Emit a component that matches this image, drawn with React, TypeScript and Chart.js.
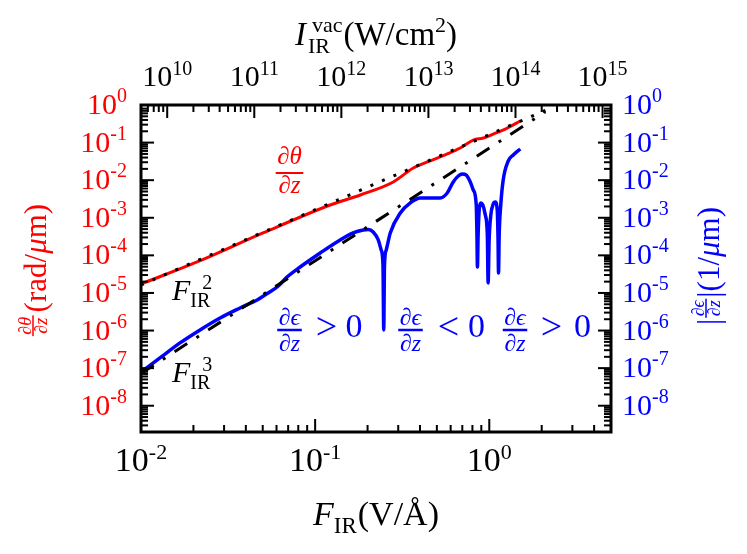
import { useEffect, useRef } from 'react';
import { Chart, registerables } from 'chart.js';

Chart.register(...registerables);

// ---------------- data ----------------
const fieldRange = [0.01, 5]; // F_IR (V/Å), bottom axis
const intensityRange = [5e9, 1.25e15]; // I_IR^vac (W/cm^2), top axis
const rateRange = [2e-9, 1]; // both vertical axes

const bottomTickValues = [0.01, 0.1, 1];
const bottomTickExponents = ['-2', '-1', '0'];
const topTickValues = [1e10, 1e11, 1e12, 1e13, 1e14, 1e15];
const topTickExponents = ['10', '11', '12', '13', '14', '15'];
const sideTickValues = [1, 1e-1, 1e-2, 1e-3, 1e-4, 1e-5, 1e-6, 1e-7, 1e-8];
const sideTickExponents = ['0', '-1', '-2', '-3', '-4', '-5', '-6', '-7', '-8'];

// dθ/dz (rad/µm), red
const thetaField = [0.01, 0.021, 0.0502, 0.122, 0.182, 0.281, 0.366, 0.441, 0.574, 0.681, 0.809, 0.925, 1.054, 1.268, 1.507];
const thetaRate = [1.73e-5, 6.67e-5, 3.94e-4, 2.19e-3, 4.04e-3, 8.95e-3, 2.11e-2, 3.05e-2, 4.98e-2, 7.18e-2, 0.117, 0.132, 0.169, 0.244, 0.375];

// |dε/dz| (1/µm), blue
const epsField = [
  0.01, 0.01285, 0.01675, 0.02183, 0.02844, 0.03707, 0.04645, 0.0537, 0.0605, 0.0691,
  0.082, 0.1069, 0.1393, 0.1653, 0.1888, 0.2018, 0.2155, 0.2303, 0.2395, 0.2452,
  0.2477, 0.2502, 0.256, 0.27, 0.3083, 0.3518, 0.4013, 0.5226, 0.5735, 0.6209,
  0.6637, 0.6998, 0.7379, 0.778, 0.8092, 0.8417, 0.8495, 0.855, 0.8629, 0.8769,
  0.8933, 0.9179, 0.9485, 0.9746, 0.9848, 0.998, 1.021, 1.054, 1.082, 1.111,
  1.123, 1.13, 1.14, 1.164, 1.202, 1.285, 1.373, 1.507,
];
const epsRate = [
  7.9e-8, 1.87e-7, 4.68e-7, 1.04e-6, 2.16e-6, 3.99e-6, 6.51e-6, 1.0e-5, 1.44e-5, 2.67e-5,
  4.91e-5, 1.16e-4, 2.57e-4, 3.94e-4, 4.74e-4, 4.89e-4, 4.19e-4, 2.57e-4, 1.39e-4, 5.56e-5,
  1.04e-6, 5.56e-5, 1.39e-4, 3.94e-4, 1.34e-3, 2.48e-3, 3.37e-3, 3.37e-3, 4.57e-3, 8.95e-3,
  1.29e-2, 1.46e-2, 1.37e-2, 8.95e-3, 5.48e-3, 2.19e-3, 3.49e-4, 4.91e-5, 3.49e-4, 1.82e-3,
  2.48e-3, 2.19e-3, 1.19e-3, 3.49e-4, 1.85e-5, 2.57e-4, 1.19e-3, 2.33e-3, 2.63e-3, 1.61e-3,
  2.57e-4, 3.4e-5, 3.49e-4, 2.19e-3, 1.01e-2, 3.24e-2, 4.68e-2, 6.76e-2,
];

// reference power laws (F^2 dotted, F^3 dash-dot)
const squareLawField = [0.01, 2.1];
const squareLawRate = [1.63e-5, 0.72];
const cubeLawField = [0.01, 2.1];
const cubeLawRate = [7.2e-8, 0.66];

// ---------------- drawing helpers ----------------
const RED = '#ff0000';
const BLUE = '#0000ff';
const BLACK = '#000000';
const SERIF = '"Liberation Serif", "Times New Roman", "DejaVu Serif", serif';
const fnt = (size: number, italic = false) => `${italic ? 'italic ' : ''}${size}px ${SERIF}`;

type Piece = { t: string; size: number; it?: boolean; dy?: number; dx?: number; stack?: boolean };

function layoutSeq(ctx: CanvasRenderingContext2D, pieces: Piece[]) {
  let cursor = 0;
  let lastStart = 0;
  const starts: number[] = [];
  for (const p of pieces) {
    ctx.font = fnt(p.size, p.it);
    const w = ctx.measureText(p.t).width;
    const dx = p.dx ?? 0;
    let s: number;
    if (p.stack) {
      s = lastStart + dx;
      cursor = Math.max(cursor, s + w);
    } else {
      s = cursor + dx;
      lastStart = s;
      cursor = s + w;
    }
    starts.push(s);
  }
  return { starts, width: cursor };
}

function drawSeq(
  ctx: CanvasRenderingContext2D,
  pieces: Piece[],
  x: number,
  y: number,
  align: 'left' | 'center' | 'right',
  color: string,
) {
  const { starts, width } = layoutSeq(ctx, pieces);
  const x0 = align === 'left' ? x : align === 'right' ? x - width : x - width / 2;
  ctx.fillStyle = color;
  ctx.textAlign = 'left';
  ctx.textBaseline = 'alphabetic';
  pieces.forEach((p, i) => {
    ctx.font = fnt(p.size, p.it);
    ctx.fillText(p.t, x0 + starts[i], y + (p.dy ?? 0));
  });
  return width;
}

function fracWidth(ctx: CanvasRenderingContext2D, num: Piece[], den: Piece[]) {
  return Math.max(layoutSeq(ctx, num).width, layoutSeq(ctx, den).width) + 3;
}

function drawFrac(
  ctx: CanvasRenderingContext2D,
  num: Piece[],
  den: Piece[],
  cx: number,
  barY: number,
  numBase: number,
  denBase: number,
  color: string,
  thick = 2,
) {
  const w = fracWidth(ctx, num, den);
  drawSeq(ctx, num, cx, numBase, 'center', color);
  drawSeq(ctx, den, cx, denBase, 'center', color);
  ctx.fillStyle = color;
  ctx.fillRect(cx - w / 2, barY - thick / 2, w, thick);
  return w;
}

// positions of decade (major) and 2..9 (minor) marks within [min, max]
function decadeTicks(min: number, max: number) {
  const out: { v: number; major: boolean }[] = [];
  const e0 = Math.floor(Math.log10(min));
  const e1 = Math.ceil(Math.log10(max));
  for (let e = e0; e <= e1; e++) {
    for (let m = 1; m <= 9; m++) {
      const v = m * Math.pow(10, e);
      if (v >= min * 0.9999 && v <= max * 1.0001) out.push({ v, major: m === 1 });
    }
  }
  return out;
}

const decorPlugin = {
  id: 'decor',
  afterDraw(chart: any) {
    const ctx: CanvasRenderingContext2D = chart.ctx;
    const { left, right, top, bottom } = chart.chartArea;
    const sx = chart.scales.x;
    const sxt = chart.scales.xTop;
    const sy = chart.scales.y;
    const syr = chart.scales.yR;
    ctx.save();
    ctx.setLineDash([]);

    // inner ticks
    ctx.fillStyle = BLACK;
    const MAJ = 13;
    const MIN = 7;
    const TW = 2;
    for (const t of decadeTicks(fieldRange[0], fieldRange[1])) {
      const px = sx.getPixelForValue(t.v);
      if (!(px > left + 2 && px < right - 2)) continue;
      const len = t.major ? MAJ : MIN;
      ctx.fillRect(px - TW / 2, bottom - len, TW, len);
    }
    for (const t of decadeTicks(intensityRange[0], intensityRange[1])) {
      const px = sxt.getPixelForValue(t.v);
      if (!(px > left + 2 && px < right - 2)) continue;
      const len = t.major ? MAJ : MIN;
      ctx.fillRect(px - TW / 2, top, TW, len);
    }
    for (const t of decadeTicks(rateRange[0], rateRange[1])) {
      const py = sy.getPixelForValue(t.v);
      if (!(py > top + 2 && py < bottom - 2)) continue;
      const len = t.major ? MAJ : MIN;
      ctx.fillRect(left, py - TW / 2, len, TW);
    }
    for (const t of decadeTicks(rateRange[0], rateRange[1])) {
      const py = syr.getPixelForValue(t.v);
      if (!(py > top + 2 && py < bottom - 2)) continue;
      const len = t.major ? MAJ : MIN;
      ctx.fillRect(right - len, py - TW / 2, len, TW);
    }

    // frame
    ctx.strokeStyle = BLACK;
    ctx.lineWidth = 3;
    ctx.strokeRect(left, top, right - left, bottom - top);

    // tick labels
    bottomTickValues.forEach((v, i) => {
      const px = sx.getPixelForValue(v);
      drawSeq(ctx, [{ t: '10', size: 34 }, { t: bottomTickExponents[i], size: 22, dy: -12 }], px, 471, 'center', BLACK);
    });
    topTickValues.forEach((v, i) => {
      const px = sxt.getPixelForValue(v);
      drawSeq(ctx, [{ t: '10', size: 30 }, { t: topTickExponents[i], size: 20, dy: -11 }], px, 86, 'center', BLACK);
    });
    sideTickValues.forEach((v, i) => {
      const py = sy.getPixelForValue(v);
      drawSeq(ctx, [{ t: '10', size: 30 }, { t: sideTickExponents[i], size: 20, dy: -12 }], 127, py + 9, 'right', RED);
    });
    sideTickValues.forEach((v, i) => {
      const py = syr.getPixelForValue(v);
      drawSeq(ctx, [{ t: '10', size: 30 }, { t: sideTickExponents[i], size: 20, dy: -12 }], 622, py + 9, 'left', BLUE);
    });

    // axis titles
    drawSeq(
      ctx,
      [
        { t: 'I', size: 33, it: true },
        { t: 'IR', size: 22, dy: 8, dx: 2 },
        { t: 'vac', size: 22, dy: -13, dx: 4, stack: true },
        { t: '(W/cm', size: 33, dx: 1 },
        { t: '2', size: 22, dy: -13 },
        { t: ')', size: 33 },
      ],
      376,
      45,
      'center',
      BLACK,
    );
    drawSeq(
      ctx,
      [
        { t: 'F', size: 34, it: true },
        { t: 'IR', size: 23, dy: 8 },
        { t: '(V/Å)', size: 34, dx: 1 },
      ],
      376,
      525,
      'center',
      BLACK,
    );

    // left title (rotated)
    {
      ctx.save();
      ctx.translate(46, 270);
      ctx.rotate(-Math.PI / 2);
      const num: Piece[] = [{ t: '∂θ', size: 18, it: true }];
      const den: Piece[] = [{ t: '∂z', size: 18, it: true }];
      const rest: Piece[] = [
        { t: '(rad/', size: 31 },
        { t: 'μ', size: 31, it: true },
        { t: 'm)', size: 31 },
      ];
      const fw = fracWidth(ctx, num, den);
      const rw = layoutSeq(ctx, rest).width;
      const total = fw + 3 + rw;
      const u0 = -total / 2;
      drawFrac(ctx, num, den, u0 + fw / 2, -13, -15.5, 1, RED, 1.5);
      drawSeq(ctx, rest, u0 + fw + 3, 0, 'left', RED);
      ctx.restore();
    }
    // right title (rotated)
    {
      ctx.save();
      ctx.translate(719, 266);
      ctx.rotate(-Math.PI / 2);
      const bar: Piece[] = [{ t: '|', size: 31 }];
      const num: Piece[] = [{ t: '∂ϵ', size: 18, it: true }];
      const den: Piece[] = [{ t: '∂z', size: 18, it: true }];
      const rest: Piece[] = [
        { t: '(1/', size: 31 },
        { t: 'μ', size: 31, it: true },
        { t: 'm)', size: 31 },
      ];
      const bw = layoutSeq(ctx, bar).width;
      const fw = fracWidth(ctx, num, den);
      const rw = layoutSeq(ctx, rest).width;
      const total = bw + 1 + fw + 1 + bw + rw;
      let u = -total / 2;
      drawSeq(ctx, bar, u, 0, 'left', BLUE);
      u += bw + 1;
      drawFrac(ctx, num, den, u + fw / 2, -13, -15.5, 1, BLUE, 1.5);
      u += fw + 1;
      drawSeq(ctx, bar, u, 0, 'left', BLUE);
      u += bw;
      drawSeq(ctx, rest, u, 0, 'left', BLUE);
      ctx.restore();
    }

    // in-plot annotations
    drawFrac(ctx, [{ t: '∂θ', size: 25, it: true }], [{ t: '∂z', size: 25, it: true }], 289.5, 173, 164, 193, RED, 2);

    drawSeq(ctx, [{ t: 'F', size: 30, it: true }, { t: 'IR', size: 20, dy: 7 }, { t: '2', size: 20, dy: -11, dx: 12, stack: true }], 172, 300, 'left', BLACK);
    drawSeq(ctx, [{ t: 'F', size: 30, it: true }, { t: 'IR', size: 20, dy: 7 }, { t: '3', size: 20, dy: -11, dx: 12, stack: true }], 172, 382, 'left', BLACK);

    const signs = [
      { cx: 289.5, op: '>', opx: 326.5, zx: 354 },
      { cx: 410.5, op: '<', opx: 448.5, zx: 476.5 },
      { cx: 515, op: '>', opx: 551.5, zx: 582.5 },
    ];
    for (const s of signs) {
      drawFrac(ctx, [{ t: '∂ϵ', size: 24, it: true }], [{ t: '∂z', size: 24, it: true }], s.cx, 330, 325, 351, BLUE, 2.5);
      drawSeq(ctx, [{ t: s.op, size: 38 }], s.opx, 339, 'center', BLUE);
      drawSeq(ctx, [{ t: '0', size: 34 }], s.zx, 337, 'center', BLUE);
    }

    ctx.restore();
  },
};

const toXY = (xs: number[], ys: number[]) => xs.map((x, i) => ({ x, y: ys[i] }));

export default function App() {
  const ref = useRef<HTMLCanvasElement>(null);
  useEffect(() => {
    if (!ref.current) return;
    const chart = new Chart(ref.current, {
      type: 'scatter',
      data: {
        datasets: [
          {
            label: 'F² law',
            data: toXY(squareLawField, squareLawRate),
            showLine: true,
            borderColor: BLACK,
            borderWidth: 3,
            borderDash: [3, 9.5],
            pointRadius: 0,
            xAxisID: 'x',
            yAxisID: 'y',
          },
          {
            label: 'F³ law',
            data: toXY(cubeLawField, cubeLawRate),
            showLine: true,
            borderColor: BLACK,
            borderWidth: 3,
            borderDash: [15, 11, 3, 11],
            pointRadius: 0,
            xAxisID: 'x',
            yAxisID: 'y',
          },
          {
            label: 'dθ/dz',
            data: toXY(thetaField, thetaRate),
            showLine: true,
            borderColor: RED,
            borderWidth: 3,
            cubicInterpolationMode: 'monotone',
            borderJoinStyle: 'round',
            pointRadius: 0,
            xAxisID: 'x',
            yAxisID: 'y',
          },
          {
            label: '|dε/dz|',
            data: toXY(epsField, epsRate),
            showLine: true,
            borderColor: BLUE,
            borderWidth: 3.5,
            cubicInterpolationMode: 'monotone',
            borderJoinStyle: 'round',
            pointRadius: 0,
            xAxisID: 'x',
            yAxisID: 'yR',
          },
        ],
      },
      options: {
        responsive: false,
        maintainAspectRatio: false,
        animation: false,
        events: [],
        layout: { padding: { left: 141, right: 136, top: 105, bottom: 122 } },
        plugins: { legend: { display: false }, tooltip: { enabled: false } },
        scales: {
          x: { type: 'logarithmic', position: 'bottom', min: fieldRange[0], max: fieldRange[1], display: false },
          xTop: { type: 'logarithmic', position: 'top', axis: 'x', min: intensityRange[0], max: intensityRange[1], display: false },
          y: { type: 'logarithmic', position: 'left', min: rateRange[0], max: rateRange[1], display: false },
          yR: { type: 'logarithmic', position: 'right', axis: 'y', min: rateRange[0], max: rateRange[1], display: false },
        },
      } as any,
      plugins: [decorPlugin],
    });
    return () => chart.destroy();
  }, []);
  return (
    <div style={{ position: 'absolute', left: 0, top: 0, width: 747, height: 554, background: '#ffffff' }}>
      <canvas ref={ref} width={747} height={554} style={{ width: 747, height: 554, display: 'block' }} />
    </div>
  );
}
